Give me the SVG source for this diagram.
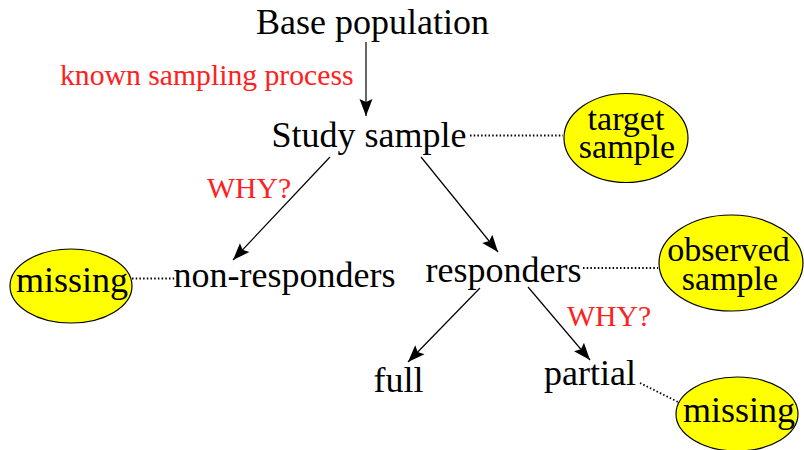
<svg xmlns="http://www.w3.org/2000/svg" width="804" height="450" viewBox="0 0 804 450">
<defs>
<style>
.t{font-size:36px;fill:#000;text-anchor:middle;}
.s{font-size:34px;}
.r{font-size:29.7px;fill:#ff2020;}
.e{fill:#ffff00;stroke:#000;stroke-width:1.2;}
.a{stroke:#000;stroke-width:1.2;fill:none;marker-end:url(#ah);}
.d{stroke:#000;stroke-width:1.8;fill:none;stroke-dasharray:1.5 2.2;}
</style>
<marker id="ah" viewBox="-18 -7 19 14" refX="0" refY="0" markerWidth="19" markerHeight="14" markerUnits="userSpaceOnUse" orient="auto">
<path d="M0,0 L-17,-6.5 L-14,0 L-17,6.5 Z" fill="#000"/>
</marker>
</defs>
<g id="connectors">
<line class="a" x1="366" y1="42" x2="366" y2="116"/>
<line class="a" x1="330" y1="157" x2="233" y2="260"/>
<line class="a" x1="421" y1="157" x2="498" y2="252"/>
<line class="a" x1="480" y1="288" x2="408" y2="362"/>
<line class="a" x1="528" y1="287" x2="590" y2="360"/>
<line class="d" x1="470" y1="135.5" x2="563" y2="135.5"/>
<line class="d" x1="132" y1="278.5" x2="175" y2="278.5"/>
<line class="d" x1="583" y1="268" x2="658" y2="268"/>
<line class="d" x1="640" y1="383" x2="680" y2="403"/>
</g>
<g font-family="'Liberation Serif', 'DejaVu Serif', 'Times New Roman', Times, 'Noto Serif', serif">
<g id="base"><text class="t" x="372.5" y="34">Base population</text></g>
<g id="label-known"><text class="r" x="60" y="85">known sampling process</text></g>
<g id="study"><text class="t" x="369" y="147">Study sample</text></g>
<g id="target"><ellipse class="e" cx="626" cy="138" rx="62" ry="44.5"/><text class="t s" x="626" y="130">target</text><text class="t s" x="627" y="158">sample</text></g>
<g id="why1"><text class="r" x="207" y="198">WHY?</text></g>
<g id="nonresp"><text class="t" x="284.5" y="287">non-responders</text></g>
<g id="missing1"><ellipse class="e" cx="71" cy="286" rx="61" ry="37"/><text class="t" x="72" y="292">missing</text></g>
<g id="resp"><text class="t" x="503.5" y="282">responders</text></g>
<g id="observed"><ellipse class="e" cx="731" cy="263" rx="72" ry="48"/><text class="t s" x="728.5" y="261">observed</text><text class="t s" x="730" y="290">sample</text></g>
<g id="why2"><text class="r" x="567" y="326">WHY?</text></g>
<g id="full"><text class="t" x="398.5" y="392">full</text></g>
<g id="partial"><text class="t" x="590" y="385">partial</text></g>
<g id="missing2"><ellipse class="e" cx="737" cy="414" rx="61" ry="37"/><text class="t" x="739" y="422">missing</text></g>
</g>
</svg>
